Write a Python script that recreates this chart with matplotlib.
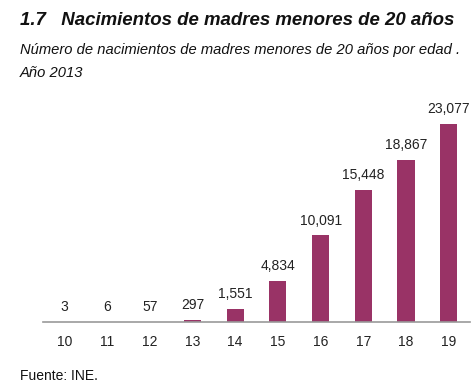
import matplotlib
matplotlib.use("Agg")
from matplotlib import pyplot as plt

plt.rcParams['font.family'] = ['Liberation Sans', 'DejaVu Sans']

edades = ['10', '11', '12', '13', '14', '15', '16', '17', '18', '19']
nacimientos = [3, 6, 57, 297, 1551, 4834, 10091, 15448, 18867, 23077]

fig = plt.figure(figsize=(4.74, 3.89), dpi=100)
ax = fig.add_axes([0.0907, 0.172, 0.901, 0.5957])

x = range(len(edades))
bars = ax.bar(x, nacimientos, width=0.4, color='#993366')

for xi, v in zip(x, nacimientos):
    ax.text(xi, v + 900, f'{v:,}', ha='center', va='bottom', fontsize=10, color='#222222')

ax.set_xlim(-0.5, 9.5)
ax.set_ylim(0, 27000)
ax.set_xticks(list(x))
ax.set_xticklabels(edades, fontsize=10, color='#222222')
ax.tick_params(axis='x', length=0, pad=9)
ax.set_yticks([])
for s in ['top', 'right', 'left']:
    ax.spines[s].set_visible(False)
ax.spines['bottom'].set_color('#999999')
ax.spines['bottom'].set_linewidth(1.2)

fig.text(0.042, 0.948, '1.7   Nacimientos de madres menores de 20 años', fontsize=13.4,
         fontweight='bold', style='italic', va='center', color='#111111')
fig.text(0.042, 0.872, 'Número de nacimientos de madres menores de 20 años por edad .',
         fontsize=10.6, style='italic', va='center', color='#111111')
fig.text(0.042, 0.812, 'Año 2013', fontsize=10.6, style='italic', va='center', color='#111111')
fig.text(0.042, 0.033, 'Fuente: INE.', fontsize=10, va='center', color='#111111')

plt.savefig('out.png')
